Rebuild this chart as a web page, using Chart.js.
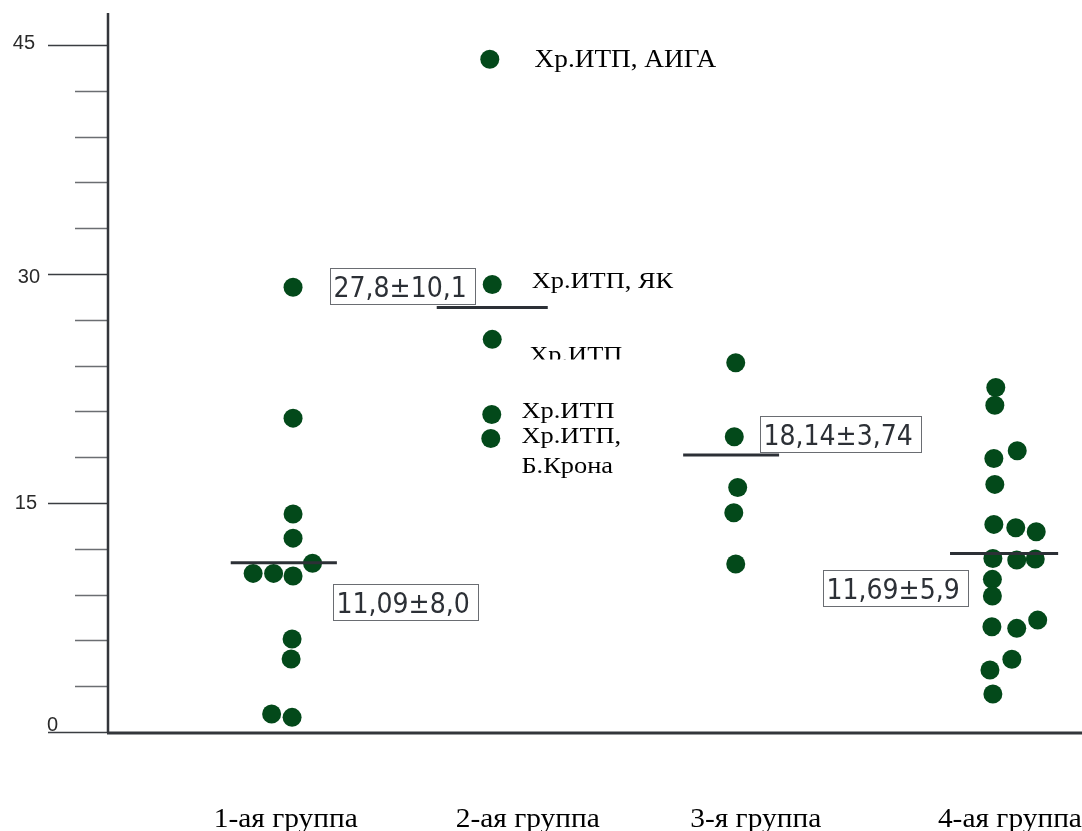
<!DOCTYPE html>
<html>
<head>
<meta charset="utf-8">
<script src="https://cdn.jsdelivr.net/npm/chart.js@4/dist/chart.umd.min.js"></script>
<style>
  html, body { margin: 0; padding: 0; background: #ffffff; }
  #wrap { width: 1082px; height: 831px; position: relative; }
</style>
</head>
<body>
<div id="wrap"><canvas id="chart"></canvas></div>
<script>
// Группы (подписи под осью X) и их положение на горизонтальной шкале 0–100
const categories = ['1-ая группа', '2-ая группа', '3-я группа', '4-ая группа'];
const categoryPos = [18.25, 43.1, 66.5, 92.6];

// Деления оси Y (шаг 3) и подписанные значения
const yTicks = [0, 3, 6, 9, 12, 15, 18, 21, 24, 27, 30, 33, 36, 39, 42, 45];
const yLabelValues = [0, 15, 30, 45];
const yLabelTexts = ['0', '15', '30', '45'];

// Индивидуальные значения по группам: x — положение точки в группе, y — значение
const group1X = [19.0, 19.0, 19.0, 19.0, 21.0, 14.9, 17.0, 19.0, 18.9, 18.8, 16.8, 18.9];
const group1Y = [29.14, 20.56, 14.28, 12.70, 11.05, 10.39, 10.39, 10.22, 6.09, 4.78, 1.18, 0.96];

const group2X = [39.2, 39.45, 39.45, 39.4, 39.3];
const group2Y = [44.07, 29.32, 25.72, 20.80, 19.23];

const group3X = [64.45, 64.3, 64.65, 64.25, 64.45];
const group3Y = [24.19, 19.34, 16.02, 14.36, 11.00];

const group4X = [91.15, 91.05, 93.35, 90.95, 91.05, 90.95, 93.2, 95.3, 90.85, 93.3, 95.2,
                 90.8, 90.8, 90.75, 93.3, 95.45, 92.8, 90.55, 90.85];
const group4Y = [22.57, 21.41, 18.42, 17.92, 16.22, 13.60, 13.38, 13.12, 11.37, 11.26, 11.33,
                 10.00, 8.91, 6.90, 6.79, 7.33, 4.76, 4.06, 2.49];

// Средние значения и их подписи (M±σ)
const meanValues = [11.09, 27.8, 18.14, 11.69];
const meanFrom = [12.6, 33.75, 59.05, 86.45];
const meanTo = [23.5, 45.15, 68.9, 97.55];
const statTexts = ['11,09±8,0', '27,8±10,1', '18,14±3,74', '11,69±5,9'];
const statBoxX = [23.05, 22.75, 66.95, 73.4];
const statBoxY = [9.69, 30.37, 20.68, 10.61];

// Диагнозы у отдельных больных 2-й группы
const noteTexts = ['Хр.ИТП, АИГА', 'Хр.ИТП, ЯК', 'Хр.ИТП', 'Хр.ИТП', 'Хр.ИТП,', 'Б.Крона'];
const noteX = [43.8, 43.5, 43.25, 42.45, 42.45, 42.45];
const noteY = [43.54, 29.06, 24.27, 20.55, 18.91, 16.95];

const DOT = '#03491a';
const INK = '#2c3036';

function pts(xs, ys) { return xs.map((x, i) => ({ x: x, y: ys[i] })); }

const pointSets = [[group1X, group1Y], [group2X, group2Y], [group3X, group3Y], [group4X, group4Y]];

const datasets = [];
meanValues.forEach((m, i) => {
  datasets.push({
    type: 'line',
    data: [{ x: meanFrom[i], y: m }, { x: meanTo[i], y: m }],
    borderColor: INK,
    borderWidth: 3,
    pointRadius: 0,
    fill: false,
    order: 0
  });
});
pointSets.forEach(([xs, ys]) => {
  datasets.push({
    type: 'scatter',
    data: pts(xs, ys),
    backgroundColor: DOT,
    borderWidth: 0,
    pointRadius: 9.5,
    pointHoverRadius: 9.5,
    order: 1
  });
});

// Текст с горизонтальным растяжением
function stretchedText(ctx, text, x, y, sx, align) {
  ctx.save();
  ctx.translate(x, y);
  ctx.scale(sx, 1);
  ctx.textAlign = align;
  ctx.fillText(text, 0, 0);
  ctx.restore();
}

const decor = {
  id: 'decor',
  beforeDatasetsDraw(chart) {
    const ctx = chart.ctx;
    const xs = chart.scales.x, ys = chart.scales.y;
    const ca = chart.chartArea;
    ctx.save();
    // деления оси Y
    yTicks.forEach(v => {
      const py = Math.round(ys.getPixelForValue(v)) + 0.5;
      const major = v % 15 === 0;
      ctx.beginPath();
      ctx.strokeStyle = major ? '#3a3d42' : '#6b6e72';
      ctx.lineWidth = 1.5;
      ctx.moveTo(major ? ca.left - 60 : ca.left - 33, py);
      ctx.lineTo(ca.left, py);
      ctx.stroke();
    });
    // подписи оси Y
    ctx.fillStyle = '#2a2a2a';
    ctx.font = '20px "Liberation Sans", Arial, sans-serif';
    ctx.textBaseline = 'middle';
    const labelRight = { 0: 58, 15: 37, 30: 40, 45: 35 };
    const labelShift = { 0: -7, 15: 0, 30: 3, 45: -2 };
    yLabelValues.forEach((v, i) => {
      ctx.textAlign = 'right';
      ctx.fillText(yLabelTexts[i], labelRight[v], ys.getPixelForValue(v) + labelShift[v]);
    });
    // оси
    ctx.strokeStyle = '#33363b';
    ctx.lineWidth = 2.5;
    ctx.beginPath();
    ctx.moveTo(ca.left, ca.top);
    ctx.lineTo(ca.left, ys.getPixelForValue(0) + 1);
    ctx.stroke();
    ctx.lineWidth = 3;
    ctx.beginPath();
    ctx.moveTo(ca.left - 1, ys.getPixelForValue(0) + 1);
    ctx.lineTo(ca.right, ys.getPixelForValue(0) + 1);
    ctx.stroke();
    // подписи групп
    ctx.fillStyle = '#000000';
    ctx.font = '28px "Liberation Serif", "Times New Roman", serif';
    ctx.textBaseline = 'alphabetic';
    categories.forEach((c, i) => {
      stretchedText(ctx, c, xs.getPixelForValue(categoryPos[i]), 827, 1.05, 'center');
    });
    ctx.restore();
  },
  afterDatasetsDraw(chart) {
    const ctx = chart.ctx;
    const xs = chart.scales.x, ys = chart.scales.y;
    ctx.save();
    // рамки со средними значениями
    ctx.font = '28px "DejaVu Sans Condensed", "DejaVu Sans", sans-serif';
    ctx.textAlign = 'left';
    ctx.textBaseline = 'alphabetic';
    statTexts.forEach((t, i) => {
      const left = Math.round(xs.getPixelForValue(statBoxX[i])) + 0.5;
      const top = Math.round(ys.getPixelForValue(statBoxY[i])) + 0.5;
      const w = Math.round(ctx.measureText(t).width) + 12;
      const h = 36;
      ctx.fillStyle = '#ffffff';
      ctx.fillRect(left, top, w, h);
      ctx.strokeStyle = '#6a6d72';
      ctx.lineWidth = 1;
      ctx.strokeRect(left, top, w, h);
      ctx.fillStyle = INK;
      ctx.fillText(t, left + 3, top + h - 8);
    });
    // примечания
    ctx.fillStyle = '#000000';
    noteTexts.forEach((t, i) => {
      ctx.font = (i === 0 ? '25px' : '24px') + ' "Liberation Serif", "Times New Roman", serif';
      const px = xs.getPixelForValue(noteX[i]);
      const py = ys.getPixelForValue(noteY[i]);
      ctx.save();
      if (i === 2) {
        ctx.beginPath();
        ctx.rect(px - 5, py - 40, 220, 38);
        ctx.clip();
      }
      stretchedText(ctx, t, px, py, i === 0 ? 1.09 : 1.1, 'left');
      ctx.restore();
    });
    ctx.restore();
  }
};

new Chart(document.getElementById('chart'), {
  data: { datasets: datasets },
  options: {
    responsive: true,
    maintainAspectRatio: false,
    animation: false,
    events: [],
    layout: { autoPadding: false, padding: { left: 108, right: 0, top: 13, bottom: 99 } },
    plugins: { legend: { display: false }, tooltip: { enabled: false } },
    scales: {
      x: { type: 'linear', min: 0, max: 100, display: false },
      y: { type: 'linear', min: 0, max: 47.1, display: false }
    }
  },
  plugins: [decor]
});
</script>
</body>
</html>
